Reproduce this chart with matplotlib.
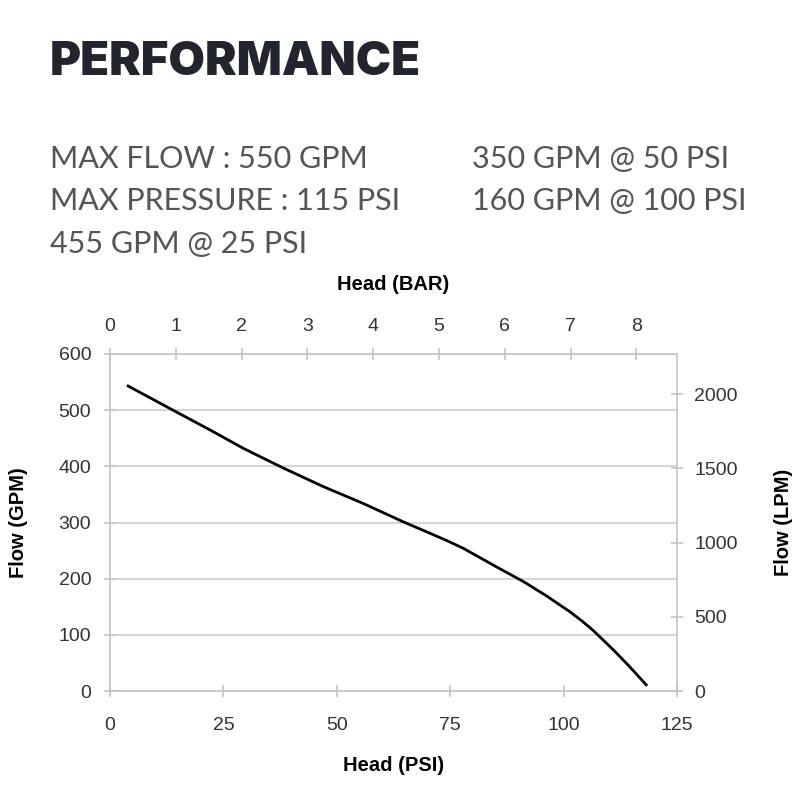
import matplotlib
matplotlib.use("Agg")
import matplotlib.pyplot as plt

# curve: head (PSI) vs flow (GPM)
head_psi = [4.0, 13.2, 22.0, 29.4, 38.2, 47.0, 55.8, 64.7, 70.5, 74.2, 77.9,
            85.2, 91.1, 96.3, 101.4, 104.0, 106.5, 111.0, 114.6, 118.2]
flow_gpm = [543, 503, 465, 432, 397, 364, 334, 301, 281, 268, 254,
            221, 195, 169, 141, 125, 108, 73, 43, 11]

psi_ticks = [0, 25, 50, 75, 100, 125]
gpm_ticks = [0, 100, 200, 300, 400, 500, 600]
bar_ticks = [0, 1, 2, 3, 4, 5, 6, 7, 8]
lpm_ticks = [0, 500, 1000, 1500, 2000]

spec_left = ["MAX FLOW : 550 GPM", "MAX PRESSURE : 115 PSI", "455 GPM @ 25 PSI"]
spec_right = ["350 GPM @ 50 PSI", "160 GPM @ 100 PSI"]

PSI_PER_BAR = 14.5038
LPM_PER_GPM = 3.78541

GRID = "#d6d6d6"
SPINE = "#c4c4c4"
TEXT = "#333333"

plt.rcParams["font.family"] = ["Liberation Sans", "DejaVu Sans"]

fig = plt.figure(figsize=(8, 8), dpi=100)
W, H = 800, 800

# header text
fig.text(50 / W, 1 - 75 / H, "PERFORMANCE", fontsize=34, fontweight="black",
         family=["Inter", "DejaVu Sans"], color="#23252e", va="baseline", ha="left")
spec_style = dict(fontsize=22, family=["Lato", "DejaVu Sans"], fontweight="normal",
                  color="#555555", va="baseline", ha="left")
for i, line in enumerate(spec_left):
    fig.text(50 / W, 1 - (168 + i * 42.5) / H, line, **spec_style)
for i, line in enumerate(spec_right):
    fig.text(472 / W, 1 - (168 + i * 42.5) / H, line, **spec_style)

ax = fig.add_axes([110 / W, 1 - 691 / H, (677 - 110) / W, (691 - 354) / H])
ax.plot(head_psi, flow_gpm, color="black", linewidth=2, solid_joinstyle="round", zorder=3)

ax.set_xlim(0, 125)
ax.set_ylim(0, 600)
ax.set_xticks(psi_ticks)
ax.set_yticks(gpm_ticks)
ax.grid(axis="y", color=GRID, linewidth=1.5)
ax.set_axisbelow(True)
for side in ["left", "right", "bottom", "top"]:
    ax.spines[side].set_color(SPINE)
    ax.spines[side].set_linewidth(1.2)
tick_style = dict(direction="inout", length=9, width=1.2, color=SPINE,
                  labelsize=14, labelcolor=TEXT)
label_style = dict(fontsize=14.5, fontweight="bold", color="black")
ax.tick_params(axis="x", pad=14, **tick_style)
ax.tick_params(axis="y", pad=9, **tick_style)
ax.set_xlabel("Head (PSI)", labelpad=16, **label_style)
ax.set_ylabel("Flow (GPM)", labelpad=22, **label_style)

top = ax.secondary_xaxis("top", functions=(lambda p: p / PSI_PER_BAR, lambda b: b * PSI_PER_BAR))
top.set_xticks(bar_ticks)
top.tick_params(pad=9, **tick_style)
top.spines["top"].set_visible(False)
top.set_xlabel("Head (BAR)", labelpad=20, **label_style)

right = ax.secondary_yaxis("right", functions=(lambda g: g * LPM_PER_GPM, lambda l: l / LPM_PER_GPM))
right.set_yticks(lpm_ticks)
right.tick_params(pad=8, **tick_style)
right.spines["right"].set_visible(False)
right.set_ylabel("Flow (LPM)", labelpad=26, **label_style)

fig.savefig("out.png", dpi=100)
